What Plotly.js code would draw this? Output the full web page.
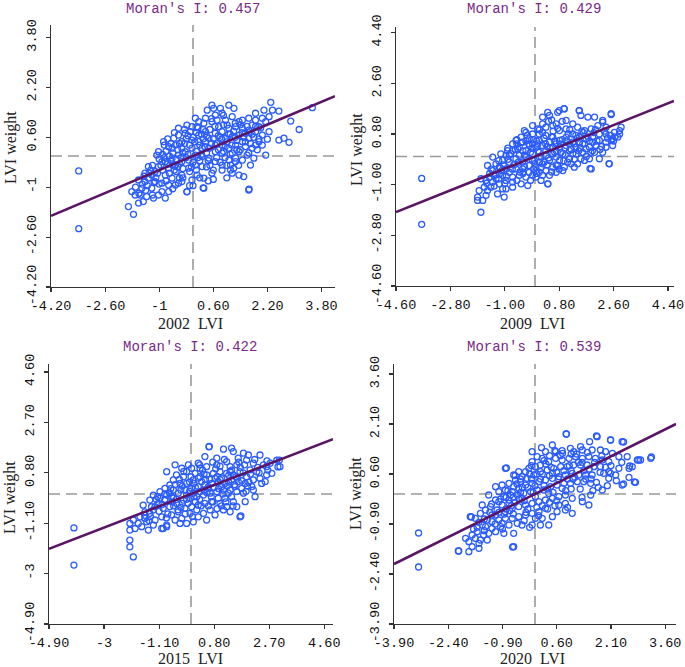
<!DOCTYPE html>
<html>
<head>
<meta charset="utf-8">
<script src="https://cdn.plot.ly/plotly-3.0.1.min.js"></script>
<style>html,body{margin:0;padding:0;background:#fff;}#chart{width:685px;height:667px;}</style>
</head>
<body>
<div id="chart"></div>
<script>
// ---------- DATA ----------
const years = ['2002', '2009', '2015', '2020'];
const moranI = [0.457, 0.429, 0.422, 0.539];
const axisMax = [4.2, 4.6, 4.9, 3.9];
const meanValue = 0;

const ticks2002 = [-4.2, -2.6, -1, 0.6, 2.2, 3.8];
const labels2002 = ['-4.20', '-2.60', '-1', '0.60', '2.20', '3.80'];
const ticks2009 = [-4.6, -2.8, -1, 0.8, 2.6, 4.4];
const labels2009 = ['-4.60', '-2.80', '-1.00', '0.80', '2.60', '4.40'];
const ticks2015 = [-4.9, -3, -1.1, 0.8, 2.7, 4.6];
const labels2015 = ['-4.90', '-3', '-1.10', '0.80', '2.70', '4.60'];
const ticks2020 = [-3.9, -2.4, -0.9, 0.6, 2.1, 3.6];
const labels2020 = ['-3.90', '-2.40', '-0.90', '0.60', '2.10', '3.60'];

// [standardised LVI, spatially lagged LVI]
const pts2002 = [
[-3.38,-0.48],[-3.38,-2.33],[-0.18,-1.15],[0.30,-1.02],[1.66,-1.06],
[0.56,1.63],[0.42,1.47],[0.61,1.53],[0.81,1.53],[1.06,1.63],[1.21,1.53],[2.30,1.72],[2.10,1.47],[2.35,1.47],[2.54,1.44],
[3.53,1.55],[1.85,1.37],[0.66,1.31],[0.86,1.37],[1.16,1.26],[0.07,1.21],[-0.03,0.94],[-0.43,0.89],[-0.18,0.99],[0.12,0.94],
[0.32,1.05],[0.56,1.10],[0.71,1.15],[0.96,1.15],[1.36,1.10],[1.46,1.15],[1.65,1.21],[1.85,1.15],[2.05,1.21],[2.15,1.10],
[2.25,1.26],[2.89,1.12],[3.14,0.85],[2.25,0.78],[2.20,0.54],[2.54,0.51],[2.69,0.57],[2.84,0.44],[2.15,0.03],[1.80,-0.07],
[1.70,-0.29],[1.65,-1.09],[1.50,-0.66],[1.36,-0.61],[1.16,-0.55],[1.11,-0.45],[0.86,-0.45],[0.56,-0.55],[0.32,-1.03],[0.32,-0.71],
[-0.18,-1.14],[-0.03,-0.77],[0.12,-0.61],[-0.43,-0.87],[-0.72,-1.14],[-0.92,-1.14],[-1.17,-1.35],[-1.37,-1.30],[-1.61,-1.51],[-1.91,-1.62],
[-1.76,-1.87],[-1.71,-1.25],[-1.81,-1.14],[-1.51,-1.03],[-1.42,-0.82],[-1.32,-0.71],[-1.22,-0.61],[-1.12,-0.50],[-1.02,-0.34],[-1.32,-0.34],
[-1.42,-0.55],[-1.61,-0.77],[-0.92,-0.18],[-1.07,0.03],[-1.02,0.14],[-0.87,0.46],[-0.72,0.30],[-0.57,0.57],[-0.52,0.35],[-0.33,0.46],
[-0.23,0.73],[-0.08,0.78],[0.17,0.67],[0.37,0.78],[0.47,0.57],[0.66,0.73],[0.86,0.78],[1.06,0.89],[1.26,0.94],[1.46,0.89],
[1.65,0.83],[1.85,0.78],[2.05,0.67],[1.95,0.46],[1.75,0.25],[1.60,0.03],[1.46,-0.13],[1.26,-0.18],[1.06,-0.13],[0.86,-0.29],
[0.66,-0.18],[0.47,-0.07],[0.27,-0.02],[0.07,0.03],[-0.13,-0.13],[-0.33,-0.18],[-0.52,-0.29],[-0.72,-0.39],[-0.82,-0.61],[-0.62,-0.71],
[-0.33,-0.61],[-0.13,-0.39],[0.07,-0.29],[0.27,-0.34],[0.47,0.25],[0.66,0.35],[0.86,0.35],[1.06,0.25],[1.26,0.35],[1.46,0.46],
[1.65,0.57],[1.85,0.35],[0.66,0.14],[0.27,0.25],[-0.03,0.25],[-0.23,0.14],[-0.43,0.03],[-0.62,-0.07],[-0.82,-0.18],[-1.12,-0.82],
[-0.92,-0.87],[-0.72,-0.93],[-0.52,-0.93],[-0.33,-0.82],[-1.22,-1.03],[-1.02,-1.25],[-0.82,-1.35],[-1.56,-1.25],[-1.47,-1.46],[1.11,-0.29],
[1.26,-0.07],[-0.33,0.25],[-0.43,0.67],[-0.62,0.25],[0.17,0.46],[0.37,0.46],[-0.03,0.51],[0.96,0.57],[1.16,0.62],[1.36,0.67],
[1.55,0.73],[1.75,0.99],[1.95,0.94],[0.17,1.10],[0.37,1.21],[0.76,0.94],[1.01,0.99],[1.55,0.30],[0.86,0.09],[1.16,0.09],[1.36,0.14],
[-0.90,0.05],[-0.80,0.15],[-0.70,0.00],[-0.60,0.10],[-0.50,-0.10],[-0.40,0.40],[-0.30,0.10],[-0.20,-0.05],[-0.10,0.35],[0.00,0.60],
[0.10,0.15],[0.20,-0.15],[0.30,0.55],[0.40,0.10],[0.50,-0.30],[0.60,0.55],[0.70,-0.05],[0.80,0.60],[0.90,0.15],[1.00,0.45],
[1.10,0.05],[1.20,0.80],[1.30,0.50],[1.40,0.20],[1.50,0.60],[1.60,0.95],[1.70,0.40],[1.80,0.60],[1.90,0.20],[2.00,0.90],
[-1.20,-0.30],[-1.10,-0.70],[-1.00,-0.90],[-0.90,-0.45],[-0.80,-0.80],[-0.70,-0.55],[-0.60,-0.30],[-0.50,-0.50],[-0.40,-0.25],[-0.30,-0.40],
[-0.20,0.55],[-0.10,-0.50],[0.00,-0.20],[0.10,-0.45],[0.20,0.35],[0.30,0.85],[0.40,-0.35],[0.50,0.85],[0.60,-0.45],[0.70,0.40],
[0.80,-0.20],[0.90,1.00],[1.00,-0.30],[1.10,0.70],[1.20,-0.40],[1.30,0.20],[1.40,1.00],[-1.40,-1.10],[-1.30,-0.55],[-1.50,-0.90],
[-1.60,-1.20],[-1.70,-1.00],[-1.20,-1.25],[-0.60,-1.05],[-0.40,-0.70],[0.00,-0.95],[0.20,-0.70],[0.45,-0.80],[-0.55,0.75],[-0.75,0.55],
[-0.25,0.85],[0.15,0.90],
[-1.45,-0.65],[-1.35,-0.95],[-1.25,-0.45],[-1.15,-0.85],[-1.05,-0.55],[-0.95,-0.30],[-0.85,-0.05],[-0.75,-0.25],[-0.65,0.40],[-0.55,-0.45],
[-0.45,0.20],[-0.35,-0.05],[-0.25,0.40],[-0.15,0.05],[-0.05,-0.35],[0.05,0.45],[0.15,-0.05],[0.25,0.70],[0.35,0.30],[0.45,-0.15],
[0.55,0.40],[0.65,0.95],[0.75,0.20],[0.85,0.55],[0.95,-0.05],[1.05,0.70],[1.15,0.35],[1.25,1.05],[1.35,-0.30],[1.45,0.75],
[1.55,0.45],[1.65,0.10],[1.75,0.70],[1.85,0.95],[1.95,0.55],[2.05,0.35],[0.55,1.20],[0.90,1.30],[-0.10,-0.95],[0.60,-0.75],
[1.00,-0.70],[0.25,0.05],[-0.65,-0.15],[-0.30,-0.70],[0.75,0.65],[1.25,0.60],[0.40,0.65],[-0.15,0.65],[0.10,0.75],[0.95,0.30],
[1.65,0.75],[-0.85,0.35],[-1.00,-0.10],[-0.45,-0.35]
];

const pts2009 = [
[-3.75,-0.78],[-3.75,-2.41],[0.96,1.70],[0.80,1.63],[1.46,1.63],[2.52,1.52],[2.45,-0.25],[1.82,-0.43],[0.43,-0.97],
[0.97,1.69],[0.75,1.57],[0.42,1.57],[0.48,1.46],[0.25,1.40],[1.47,1.63],[1.52,1.46],[1.75,1.40],[1.97,1.40],[2.52,1.49],
[2.24,1.22],[1.03,1.28],[0.70,1.16],[-0.08,1.10],[0.09,0.98],[0.36,1.04],[0.59,1.10],[1.25,1.16],[1.41,1.04],[1.64,0.92],
[1.86,0.98],[2.08,1.10],[2.35,1.04],[2.63,0.86],[2.80,0.92],[2.74,0.69],[2.52,0.57],[2.35,0.51],[2.57,0.39],[2.24,0.15],
[1.97,0.15],[2.46,-0.26],[1.86,-0.44],[1.52,-0.08],[1.30,-0.38],[1.08,-0.20],[0.92,-0.50],[0.70,-0.56],[0.42,-0.97],[0.20,-0.85],
[0.03,-0.73],[-0.24,-1.03],[-0.46,-0.97],[-0.74,-1.09],[-0.96,-1.15],[-1.24,-1.33],[-1.57,-1.21],[-1.85,-1.21],[-1.90,-1.44],[-1.73,-1.56],
[-1.79,-1.98],[-1.62,-1.38],[-1.46,-1.09],[-1.62,-0.85],[-1.79,-0.79],[-1.29,-0.79],[-1.07,-0.67],[-0.85,-0.56],[-1.18,-0.38],[-1.40,-0.50],
[-1.57,-0.32],[-1.13,0.09],[-0.91,0.21],[-0.74,0.45],[-0.63,0.57],[-0.46,0.69],[-0.30,0.86],[-0.35,0.92],[-0.19,0.63],[-0.08,0.45],
[0.14,0.57],[0.36,0.75],[0.59,0.69],[0.81,0.57],[1.03,0.69],[1.25,0.80],[1.47,0.69],[1.69,0.63],[1.91,0.69],[2.13,0.80],
[2.35,0.80],[2.57,0.63],[2.80,0.80],[2.85,1.04],[2.24,1.28],[-0.63,-0.08],[-0.41,-0.20],[-0.19,-0.32],[0.03,-0.38],[0.25,-0.26],
[0.48,-0.14],[0.70,-0.02],[0.92,0.09],[1.14,0.21],[1.36,0.33],[1.58,0.45],[1.80,0.33],[2.02,0.39],[2.13,-0.08],[1.80,-0.08],
[1.58,0.15],[1.36,0.09],[1.14,-0.08],[0.81,-0.14],[0.59,-0.38],[0.36,-0.50],[0.14,-0.56],[-0.08,-0.67],[-0.30,-0.73],[-0.52,-0.67],
[-0.74,-0.73],[-0.96,-0.85],[-1.18,-0.97],[-1.40,-0.91],[-1.51,-0.73],[-0.85,-0.20],[-1.07,-0.14],[-1.29,-0.26],[-1.40,-0.02],[-0.96,0.04],
[-0.74,0.21],[-0.52,0.33],[-0.30,0.21],[-0.08,0.09],[0.14,0.15],[0.36,0.21],[0.59,0.33],[0.81,0.33],[1.03,0.39],[1.25,0.51],
[1.47,0.51],[1.69,0.27],[1.91,0.51],[2.13,0.57],[2.35,0.33],[-0.52,0.04],[-0.30,-0.02],[-0.08,-0.14],[0.14,-0.02],[0.36,0.04],
[0.59,0.09],[0.86,0.15],[-0.63,-0.44],[-0.41,-0.44],[-0.19,-0.56],[0.03,-0.50],[0.25,-0.67],[0.48,-0.67],[0.75,-0.32],[0.97,-0.38],
[1.19,-0.26],[1.41,-0.26],[1.64,-0.14],[-0.08,0.80],[0.14,0.80],[0.25,1.16],[0.81,0.92],[1.03,0.98],[0.48,0.51],[0.70,0.45],
[0.25,0.39],[0.03,0.33],[-0.19,0.39],[-0.41,0.51],[-0.57,0.27],[-0.96,-0.44],[-1.18,-0.62],[-1.35,-0.67],[-1.68,-1.09],[-1.07,-1.15],
[-0.74,-0.91],[-1.02,-1.44],[-1.90,-1.56],
[-0.90,-0.10],[-0.80,0.10],[-0.70,-0.30],[-0.60,0.45],[-0.50,-0.55],[-0.40,0.20],[-0.30,0.55],[-0.20,-0.10],[-0.10,0.30],[0.00,-0.25],
[0.10,0.45],[0.20,0.00],[0.30,0.65],[0.40,-0.30],[0.50,0.30],[0.60,0.90],[0.70,0.20],[0.80,-0.45],[0.90,0.60],[1.00,0.05],
[1.10,0.80],[1.20,0.25],[1.30,-0.10],[1.40,0.65],[1.50,0.30],[1.60,0.85],[1.70,0.00],[1.80,0.55],[1.90,0.20],[2.00,0.95],
[-1.10,-0.50],[-1.00,-0.95],[-1.20,-0.15],[-1.30,-0.65],[-1.45,-0.45],[-1.60,-0.95],[-0.60,-0.85],[-0.35,-0.35],[-0.15,-0.85],[0.05,-0.60],
[0.30,-0.20],[0.55,-0.55],[0.15,0.95],[-0.05,0.60],[0.45,1.25],[0.65,0.55],[1.15,0.45],[2.20,0.35],[2.40,0.65],[2.60,0.55],
[-1.50,-0.60],[-1.35,-1.05],[-1.20,-0.80],[-1.05,-0.30],[-0.95,-0.70],[-0.85,0.05],[-0.75,-0.45],[-0.65,0.25],[-0.55,-0.20],[-0.45,0.50],
[-0.35,0.05],[-0.25,0.75],[-0.15,0.15],[-0.05,-0.45],[0.05,0.55],[0.15,-0.20],[0.25,0.85],[0.35,0.45],[0.45,-0.05],[0.55,0.70],
[0.65,0.15],[0.75,1.00],[0.85,0.45],[0.95,-0.15],[1.05,0.55],[1.15,0.95],[1.25,0.10],[1.35,0.75],[1.45,0.20],[1.55,0.90],
[1.65,0.45],[1.75,0.70],[1.85,0.15],[1.95,0.85],[2.05,0.55],[2.15,0.25],[2.30,0.90],[2.50,0.75],[2.65,0.70],[0.90,1.25],
[0.55,1.30],[-0.40,-0.60],[-0.20,0.45],[0.10,0.20],[0.40,0.35],[0.70,-0.30],[1.00,0.30],[1.30,0.45],[0.20,-0.40],[-0.60,0.60],
[-0.90,0.30],[-1.15,-0.40]
];

const pts2015 = [
[-4.04,-1.28],[-4.04,-2.68],[3.00,1.02],[3.05,1.28],[2.62,1.25],[1.72,-0.83],[0.62,1.78],
[0.63,1.79],[1.12,1.69],[1.40,1.73],[1.46,1.60],[1.81,1.54],[1.98,1.47],[2.38,1.47],[1.63,1.35],[0.89,1.35],
[0.48,1.41],[0.25,1.16],[-0.09,1.10],[-0.32,0.97],[-0.55,1.10],[-0.84,0.84],[0.02,0.97],[0.31,0.97],[0.54,1.03],[0.89,1.10],
[1.23,1.22],[1.35,1.03],[1.58,1.10],[1.92,1.28],[2.15,1.16],[2.04,0.91],[2.27,0.84],[2.61,1.03],[2.73,1.16],[2.96,1.28],
[3.07,1.03],[2.79,0.78],[2.56,0.47],[2.44,0.40],[2.15,0.15],[1.81,0.03],[2.21,-0.10],[1.87,-0.29],[1.69,-0.86],[1.46,-0.29],
[1.23,-0.48],[1.00,-0.35],[0.66,-0.60],[0.43,-0.73],[0.25,-0.86],[-0.03,-0.73],[-0.32,-0.92],[-0.55,-0.98],[-0.84,-1.23],[-1.01,-1.30],
[-1.30,-1.17],[-1.47,-1.36],[-1.70,-1.23],[-1.93,-1.30],[-2.11,-1.36],[-2.11,-1.11],[-1.99,-0.98],[-1.76,-0.86],[-1.59,-0.67],[-1.42,-0.73],
[-1.24,-0.48],[-1.42,-0.23],[-1.65,-0.42],[-1.30,-0.04],[-1.07,0.09],[-0.90,0.21],[-0.73,0.34],[-0.61,0.53],[-0.50,0.72],[-0.26,0.65],
[-0.15,0.40],[0.08,0.53],[0.31,0.65],[0.54,0.72],[0.77,0.78],[1.00,0.84],[1.23,0.78],[1.46,0.72],[1.69,0.84],[1.92,0.65],
[2.15,0.53],[2.38,0.59],[2.61,0.72],[-1.13,-0.35],[-0.90,-0.23],[-0.67,-0.10],[-0.44,0.03],[-0.21,0.15],[0.02,0.21],[0.25,0.28],
[0.48,0.34],[0.71,0.40],[0.94,0.47],[1.17,0.40],[1.40,0.53],[1.63,0.47],[1.87,0.40],[2.10,0.28],[-0.96,-0.54],[-0.73,-0.48],
[-0.50,-0.35],[-0.26,-0.23],[-0.03,-0.16],[0.20,-0.10],[0.43,-0.04],[0.66,0.03],[0.89,0.09],[1.12,0.15],[1.35,0.15],[1.58,0.09],
[-0.67,-0.79],[-0.44,-0.67],[-0.21,-0.54],[0.02,-0.48],[0.25,-0.42],[0.48,-0.35],[0.71,-0.29],[0.94,-0.16],[1.17,-0.16],[1.40,-0.10],
[-1.01,-0.86],[-1.24,-0.98],[-1.53,-1.05],[-1.82,-1.11],[-0.15,-1.11],[-0.38,-1.11],[0.08,-1.05],[0.54,-0.98],[0.83,-0.79],[1.12,-0.60],
[1.35,-0.67],[1.58,-0.48],[0.31,0.09],[0.08,0.03],[-0.15,-0.04],[-0.38,0.40],[-0.15,0.84],[0.14,0.78],[0.37,0.47],[0.60,0.28],
[0.83,0.59],[1.06,0.28],[1.29,0.03],[1.52,0.28],[1.75,0.21],[-0.84,-0.04],[-0.61,0.15],[-1.07,-0.16],[-1.36,-0.48],[-1.59,-0.92],
[-2.11,-1.74],[-2.11,-1.99],[-1.99,-2.37],[-0.96,-1.30],[-0.84,-1.17],
[-0.90,0.00],[-0.70,0.20],[-0.50,-0.20],[-0.30,0.30],[-0.10,-0.35],[0.10,0.40],[0.30,-0.20],[0.50,0.55],[0.70,-0.10],[0.90,0.65],
[1.10,0.00],[1.30,0.70],[1.50,0.35],[1.70,1.00],[1.90,0.10],[-1.10,-0.65],[-0.80,-0.75],[-0.60,-0.45],[-0.40,0.55],[-0.20,-0.75],
[0.00,0.65],[0.20,-0.60],[0.40,0.90],[0.60,-0.45],[0.80,0.25],[1.00,1.05],[1.20,-0.30],[1.40,0.90],[1.60,0.60],[1.80,0.80],
[2.00,0.45],[2.30,1.00],[-1.40,-0.85],[-1.20,-0.20],[-0.05,0.10],[0.45,0.15],[0.75,1.20],[1.05,-0.45],[-0.35,-0.50],[0.15,-0.30],
[-1.60,-0.80],[-1.45,-1.00],[-1.30,-0.60],[-1.15,-0.10],[-1.00,-0.40],[-0.85,-0.90],[-0.75,0.05],[-0.65,-0.30],[-0.55,0.35],[-0.45,-0.60],
[-0.35,0.15],[-0.25,0.85],[-0.15,-0.20],[-0.05,0.45],[0.05,-0.85],[0.15,0.25],[0.25,0.60],[0.35,-0.45],[0.45,0.75],[0.55,0.05],
[0.65,0.55],[0.75,-0.30],[0.85,0.95],[0.95,0.20],[1.05,0.60],[1.15,1.30],[1.25,0.30],[1.35,0.85],[1.45,-0.45],[1.55,0.65],
[1.65,1.20],[1.75,0.50],[1.85,1.10],[1.95,0.30],[2.05,0.75],[2.20,1.30],[2.35,0.80],[2.50,1.10],[2.65,0.90],[0.30,1.10],
[-0.60,-0.15],[0.10,-0.10],[0.60,0.20],[1.00,0.55],[-0.30,-0.35],[0.90,-0.55],[1.30,0.45],[-0.90,-0.20]
];

const pts2020 = [
[-3.22,-1.17],[-3.22,-2.19],[3.22,1.11],[2.92,1.02],[2.75,0.36],[2.45,0.30],[2.62,0.84],[2.09,1.62],[2.45,1.56],[1.70,1.74],
[0.87,1.80],[-0.62,-1.59],[-2.12,-1.71],[-1.76,-0.69],[-0.79,0.78],
[0.86,1.80],[1.72,1.72],[2.09,1.62],[2.41,1.57],[1.51,1.57],[1.26,1.42],[0.48,1.47],[0.18,1.39],[0.29,1.27],[0.57,1.27],
[0.76,1.22],[0.98,1.37],[1.07,1.27],[1.31,1.32],[1.58,1.32],[1.81,1.32],[1.95,1.27],[2.14,1.22],[2.32,1.12],[2.55,1.12],
[2.87,1.02],[3.20,1.07],[2.83,1.02],[2.69,0.82],[2.32,0.77],[2.04,0.67],[1.90,0.62],[2.09,0.62],[2.41,0.27],[2.78,0.35],
[1.86,0.12],[1.54,-0.03],[1.49,-0.33],[1.31,-0.23],[1.03,-0.13],[1.03,-0.58],[0.84,-0.48],[0.61,-0.53],[0.48,-0.68],[0.38,-0.93],
[0.15,-0.93],[-0.08,-0.93],[-0.36,-0.93],[-0.59,-1.18],[-0.59,-1.58],[-0.86,-1.18],[-1.09,-1.13],[-1.32,-1.38],[-1.51,-1.38],[-1.55,-1.63],
[-1.74,-1.58],[-1.83,-1.73],[-2.11,-1.71],[-1.92,-1.33],[-1.74,-1.23],[-1.60,-1.13],[-1.46,-0.93],[-1.32,-0.78],[-1.19,-0.63],[-1.05,-0.48],
[-0.91,-0.33],[-0.72,-0.18],[-1.00,-0.23],[-1.23,-0.38],[-1.37,-0.48],[-1.51,-0.58],[-1.65,-0.73],[-1.79,-0.68],[-0.82,0.77],[-0.59,0.57],
[-0.45,0.67],[-0.26,0.67],[-0.08,0.97],[0.06,1.12],[0.20,1.07],[0.38,0.97],[0.57,1.07],[0.75,1.02],[0.94,1.07],[1.12,1.12],
[1.31,1.07],[1.49,1.12],[1.67,1.07],[1.86,1.02],[2.04,0.97],[-0.59,0.22],[-0.40,0.37],[-0.22,0.47],[-0.03,0.57],[0.15,0.67],
[0.34,0.72],[0.52,0.77],[0.71,0.82],[0.89,0.82],[1.07,0.87],[1.26,0.87],[1.44,0.87],[1.63,0.82],[1.81,0.82],[-1.00,0.07],
[-0.82,0.12],[-0.63,0.07],[-0.45,0.17],[-0.26,0.27],[-0.08,0.32],[0.11,0.37],[0.29,0.42],[0.48,0.47],[0.66,0.52],[0.84,0.57],
[1.03,0.62],[1.21,0.57],[1.40,0.57],[1.58,0.57],[-1.09,-0.18],[-0.86,-0.08],[-0.68,-0.03],[-0.49,-0.03],[-0.31,0.02],[-0.12,0.07],
[0.06,0.12],[0.24,0.12],[0.43,0.22],[0.61,0.27],[0.80,0.32],[0.98,0.32],[1.17,0.37],[1.35,0.37],[1.54,0.32],[-0.82,-0.53],
[-0.63,-0.43],[-0.45,-0.38],[-0.26,-0.33],[-0.08,-0.28],[0.11,-0.23],[0.29,-0.18],[0.48,-0.13],[0.66,-0.08],[0.84,-0.03],[-1.19,-0.83],
[-1.00,-0.78],[-0.82,-0.73],[-0.63,-0.73],[-0.45,-0.68],[-0.26,-0.63],[-0.08,-0.58],[0.11,-0.53],[0.29,-0.43],[-1.37,-0.98],[-1.19,-1.03],
[-0.95,-0.98],[-0.72,-0.93],[-0.49,-0.88],[-1.65,-1.33],[-1.42,-1.23],[-1.28,-1.18],[-1.83,-1.43],[-1.55,-1.48],[0.01,-0.73],[0.20,-0.73],
[0.66,-0.33],[0.84,-0.28],[0.01,0.82],[-0.17,0.77],[-0.36,0.52],[-0.54,0.42],[-0.72,0.32],[-0.91,0.27],[-1.09,0.22],[-1.28,-0.03],
[-1.46,-0.33],[-0.08,1.27],[0.15,0.87],[0.48,0.62],[0.75,0.17],[0.38,0.02],[0.01,-0.08],[-0.36,-0.13],[-0.72,-0.28],[2.04,0.47],
[2.23,0.57],[2.60,0.77],[-1.09,-0.63],[-0.91,-0.88],
[-1.20,-0.30],[-1.00,-0.55],[-0.80,-0.10],[-0.60,-0.60],[-0.40,0.05],[-0.20,-0.45],[0.00,0.25],[0.20,-0.35],[0.40,0.55],[0.60,-0.20],
[0.80,0.70],[1.00,0.15],[1.20,0.95],[1.40,0.45],[1.60,0.10],[1.80,0.65],[2.00,0.25],[-0.90,-1.05],[-0.70,-0.50],[-0.50,0.30],
[-0.30,-0.80],[-0.10,0.45],[0.10,-0.65],[0.30,0.90],[0.50,0.05],[0.70,1.15],[0.90,-0.40],[1.10,0.50],[1.30,-0.10],[1.50,0.75],
[1.70,0.35],[-1.40,-0.75],[-1.60,-1.00],[-0.15,-1.00],[0.35,-0.45],[0.55,1.30],[1.00,1.20],[-0.55,-0.25],[0.05,0.60],[0.25,0.25],
[-1.70,-1.05],[-1.55,-0.85],[-1.40,-1.10],[-1.25,-0.55],[-1.10,-0.90],[-0.95,-0.15],[-0.85,-0.60],[-0.75,0.10],[-0.65,-0.35],[-0.55,0.55],
[-0.45,-0.15],[-0.35,0.20],[-0.25,-0.55],[-0.15,0.60],[-0.05,0.05],[0.05,-0.40],[0.15,0.45],[0.25,1.00],[0.35,0.15],[0.45,0.80],
[0.55,-0.35],[0.65,0.45],[0.75,1.30],[0.85,0.10],[0.95,0.85],[1.05,0.45],[1.15,1.20],[1.25,0.15],[1.35,0.70],[1.45,1.25],
[1.55,0.45],[1.65,0.95],[1.75,0.20],[1.85,1.15],[1.95,0.80],[2.10,0.85],[2.25,0.40],[2.40,0.95],[2.60,0.50],[0.40,1.15],
[-0.10,0.85],[-0.40,0.45],[0.20,0.60],[0.60,0.65],[1.00,0.70],[-0.60,-0.10],[-0.20,0.20],[0.40,-0.25],[0.90,0.45],[1.30,0.95],
[-0.80,-0.45],[-0.30,-0.20]
];

const allPoints = [pts2002, pts2009, pts2015, pts2020];
const allTicks = [ticks2002, ticks2009, ticks2015, ticks2020];
const allLabels = [labels2002, labels2009, labels2015, labels2020];

// ---------- LAYOUT GEOMETRY (px) ----------
const W = 685, H = 667;
const boxes = [ // [left, right, top, bottom]
  [51, 335, 25, 287],
  [396, 674, 27, 286],
  [49, 333, 364, 624],
  [394, 676, 364, 624]
];
const titlePos = [[193.5, 9], [534, 9], [190, 347], [534, 347]];
const xTitlePos = [[190, 323], [532, 323], [190, 658], [532, 658]];
const yTitlePos = [[11, 148], [357, 150], [10, 498], [356, 494]];

const tickFont = {family: 'Liberation Mono, DejaVu Sans Mono, monospace', size: 13.5, color: '#111'};
const serif = 'Liberation Serif, DejaVu Serif, serif';

const traces = [];
const layout = {
  width: W, height: H,
  margin: {l: 0, r: 0, t: 0, b: 0},
  paper_bgcolor: '#fff', plot_bgcolor: '#fff',
  showlegend: false,
  shapes: [], annotations: []
};

allPoints.forEach((pts, i) => {
  const s = i === 0 ? '' : String(i + 1);
  const R = axisMax[i];
  const b = boxes[i];
  traces.push({
    type: 'scatter', mode: 'markers',
    x: pts.map(p => p[0]), y: pts.map(p => p[1]),
    xaxis: 'x' + s, yaxis: 'y' + s,
    marker: {symbol: 'circle-open', size: 6, color: '#2a5cff', line: {width: 1.3, color: '#2a5cff'}},
    hoverinfo: 'skip'
  });
  traces.push({
    type: 'scatter', mode: 'lines',
    x: [-R, R], y: [-R * moranI[i], R * moranI[i]],
    xaxis: 'x' + s, yaxis: 'y' + s,
    line: {color: '#5c1466', width: 2.6},
    hoverinfo: 'skip'
  });
  const common = {
    range: [-R, R], showgrid: false, zeroline: false, showline: true,
    linecolor: '#333', linewidth: 1.2, ticks: 'outside', ticklen: 4, tickwidth: 1.2, tickcolor: '#333',
    tickmode: 'array', tickvals: allTicks[i], ticktext: allLabels[i], tickfont: tickFont, fixedrange: true
  };
  layout['xaxis' + s] = Object.assign({}, common, {
    domain: [b[0] / W, b[1] / W], anchor: 'y' + s, ticklabelstandoff: 2
  });
  layout['yaxis' + s] = Object.assign({}, common, {
    domain: [1 - b[3] / H, 1 - b[2] / H], anchor: 'x' + s, tickangle: -90, ticklabelstandoff: 4
  });
  const dash = {color: '#9a9a9a', width: 1.6, dash: '11px,6px'};
  layout.shapes.push({type: 'line', layer: 'below', xref: 'x' + s, yref: 'y' + s + ' domain',
    x0: meanValue, x1: meanValue, y0: 0, y1: 1, line: dash});
  layout.shapes.push({type: 'line', layer: 'below', xref: 'x' + s + ' domain', yref: 'y' + s,
    x0: 0, x1: 1, y0: meanValue, y1: meanValue, line: dash});
  layout.annotations.push({
    text: "Moran's I: " + moranI[i].toFixed(3), showarrow: false,
    xref: 'paper', yref: 'paper', x: titlePos[i][0] / W, y: 1 - titlePos[i][1] / H,
    xanchor: 'center', yanchor: 'middle',
    font: {family: 'Liberation Mono, DejaVu Sans Mono, monospace', size: 14, color: '#7a2a88'}
  });
  layout.annotations.push({
    text: years[i] + '\u00a0\u00a0LVI', showarrow: false,
    xref: 'paper', yref: 'paper', x: xTitlePos[i][0] / W, y: 1 - xTitlePos[i][1] / H,
    xanchor: 'center', yanchor: 'middle',
    font: {family: serif, size: 16, color: '#222'}
  });
  layout.annotations.push({
    text: 'LVI weight', showarrow: false, textangle: -90,
    xref: 'paper', yref: 'paper', x: yTitlePos[i][0] / W, y: 1 - yTitlePos[i][1] / H,
    xanchor: 'center', yanchor: 'middle',
    font: {family: serif, size: 16, color: '#222'}
  });
});

Plotly.newPlot('chart', traces, layout, {staticPlot: true, displayModeBar: false});
</script>
</body>
</html>
